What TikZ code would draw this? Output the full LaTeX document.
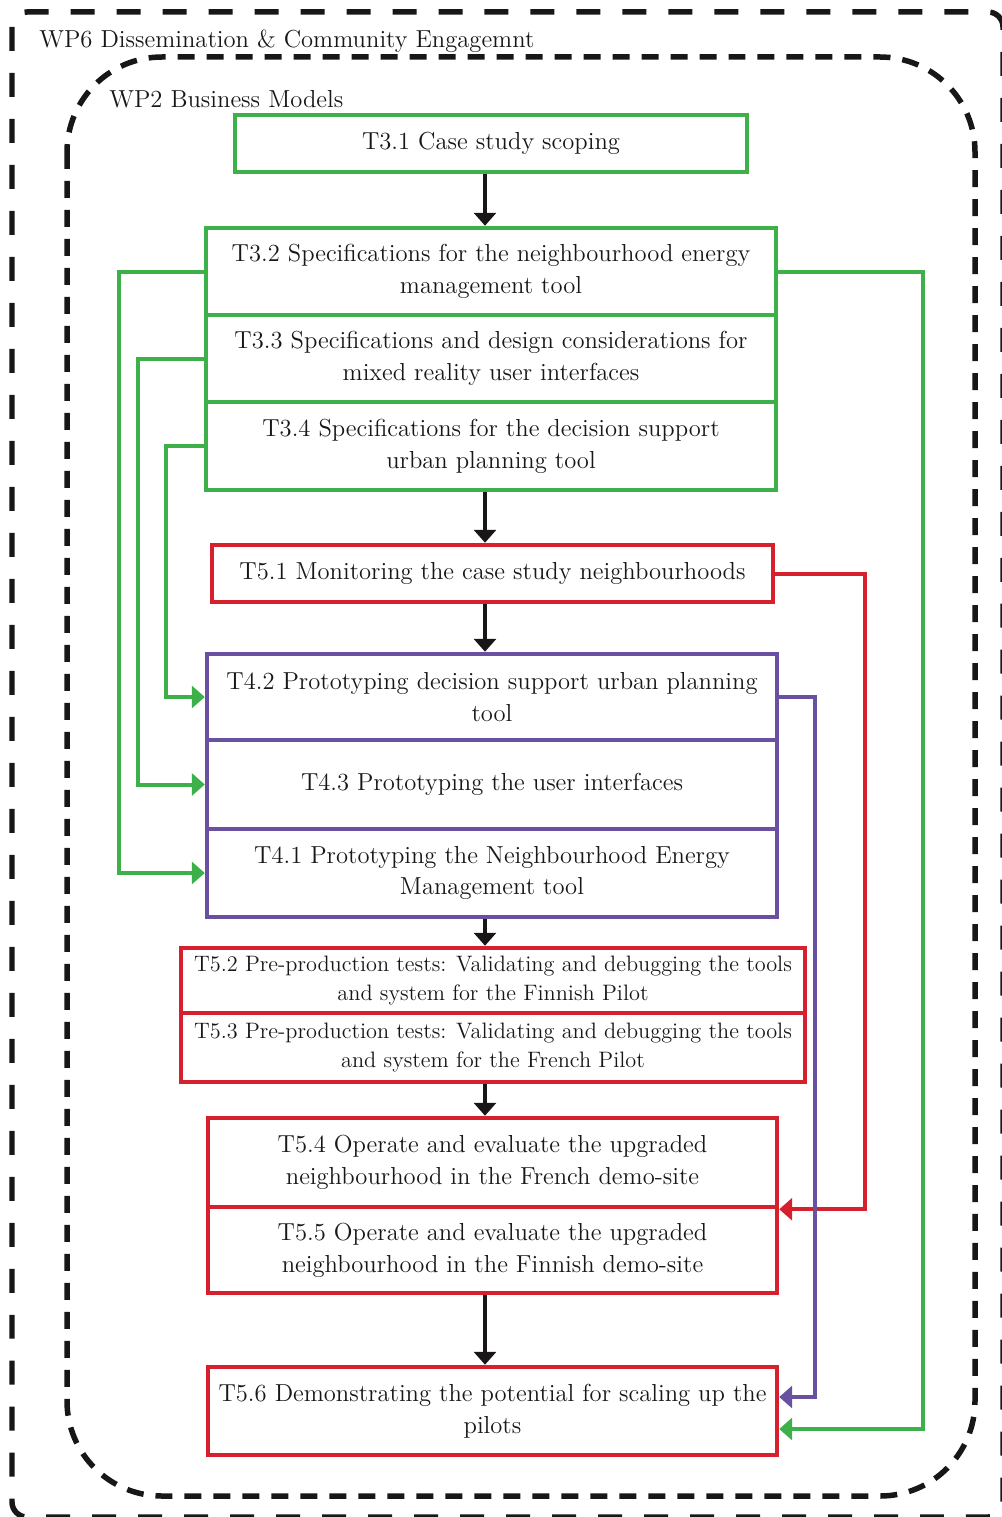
\documentclass[tikz,border=0pt]{standalone}
\usetikzlibrary{arrows.meta}
\definecolor{taskgreen}{RGB}{62,176,73}
\definecolor{taskred}{RGB}{214,32,46}
\definecolor{taskpurple}{RGB}{105,80,160}
\definecolor{textdark}{RGB}{25,22,24}
\tikzset{
  task/.style={draw, line width=0.09cm, align=center, inner sep=0pt, text=textdark,
    font=\fontsize{14}{18.1}\selectfont},
  greentask/.style={task, draw=taskgreen, minimum width=11.4cm},
  redtask/.style={task, draw=taskred, minimum width=11.4cm},
  purpletask/.style={task, draw=taskpurple, minimum width=11.4cm},
  pilottask/.style={redtask, minimum width=12.48cm, font=\fontsize{12.7}{16.4}\selectfont},
  wplabel/.style={anchor=west, inner sep=0pt, text=textdark, font=\fontsize{14}{18}\selectfont},
  wpouter/.style={draw=textdark, line width=0.11cm, dash pattern=on 0.48cm off 0.44cm},
  wpinner/.style={draw=textdark, line width=0.11cm, dash pattern=on 0.34cm off 0.24cm},
  flow/.style={-{Triangle[length=0.26cm,width=0.44cm]}, line width=0.08cm, draw=textdark},
  link/.style={-{Triangle[length=0.26cm,width=0.44cm]}, line width=0.08cm}
}
\begin{document}
\begin{tikzpicture}[x=0.02cm, y=-0.02cm]
  \useasboundingbox (0,0) rectangle (1001,1517);
  % work package frames
  \draw[wpouter, rounded corners=0.3cm] (12,12) rectangle (1003,1517);
  \draw[wpinner, rounded corners=1.9cm] (67,57) rectangle (975,1496);
  \node[wplabel] (wp6) at (39,41) {WP6 Dissemination \& Community Engagemnt};
  \node[wplabel] (wp2) at (109,99) {WP2 Business Models};

  % WP3 tasks
  \node[greentask, minimum width=10.24cm, minimum height=1.14cm] (t31) at (491,143.5) {T3.1 Case study scoping};
  \node[greentask, minimum height=1.74cm] (t32) at (491,271.5) {T3.2 Specifications for the neighbourhood energy\\management tool};
  \node[greentask, minimum height=1.74cm] (t33) at (491,358.5) {T3.3 Specifications and design considerations for\\mixed reality user interfaces};
  \node[greentask, minimum height=1.76cm] (t34) at (491,446) {T3.4 Specifications for the decision support\\urban planning tool};

  % monitoring
  \node[redtask, minimum width=11.22cm, minimum height=1.14cm] (t51) at (492.5,573.5) {T5.1 Monitoring the case study neighbourhoods};

  % WP4 tasks
  \node[purpletask, minimum height=1.72cm] (t42) at (492,697) {T4.2 Prototyping decision support urban planning\\tool};
  \node[purpletask, minimum height=1.78cm] (t43) at (492,784.5) {T4.3 Prototyping the user interfaces};
  \node[purpletask, minimum height=1.76cm] (t41) at (492,873) {T4.1 Prototyping the Neighbourhood Energy\\Management tool};

  % WP5 tasks
  \node[pilottask, minimum height=1.3cm] (t52) at (493,980.5) {T5.2 Pre-production tests: Validating and debugging the tools\\and system for the Finnish Pilot};
  \node[pilottask, minimum height=1.38cm] (t53) at (493,1047.5) {T5.3 Pre-production tests: Validating and debugging the tools\\and system for the French Pilot};
  \node[redtask, minimum width=11.38cm, minimum height=1.78cm] (t54) at (492.5,1162.5) {T5.4 Operate and evaluate the upgraded\\neighbourhood in the French demo-site};
  \node[redtask, minimum width=11.38cm, minimum height=1.72cm] (t55) at (492.5,1250) {T5.5 Operate and evaluate the upgraded\\neighbourhood in the Finnish demo-site};
  \node[redtask, minimum width=11.38cm, minimum height=1.76cm] (t56) at (492.5,1411) {T5.6 Demonstrating the potential for scaling up the\\pilots};

  % main flow
  \coordinate (spine) at (485,0);
  \draw[flow] (t31.south -| spine) -- (t32.north -| spine);
  \draw[flow] (t34.south -| spine) -- (t51.north -| spine);
  \draw[flow] (t51.south -| spine) -- (t42.north -| spine);
  \draw[flow] (t41.south -| spine) -- (t52.north -| spine);
  \draw[flow] (t53.south -| spine) -- (t54.north -| spine);
  \draw[flow] (t55.south -| spine) -- (t56.north -| spine);

  % side links
  \draw[link, taskgreen] (t32.west) -- ++(-85,0) |- (t41.west);
  \draw[link, taskgreen] (t33.west) -- ++(-66,0) |- (t43.west);
  \draw[link, taskgreen] (t34.west) -- ++(-38,0) |- (t42.west);
  \draw[link, taskgreen] (t32.east) -- ++(145,0) |- ([yshift=-0.36cm]t56.east);
  \draw[link, taskred] (t51.east) -- ++(90,0) |- (t54.south east);
  \draw[link, taskpurple] (t42.east) -- ++(36,0) |- ([yshift=0.28cm]t56.east);
\end{tikzpicture}
\end{document}
